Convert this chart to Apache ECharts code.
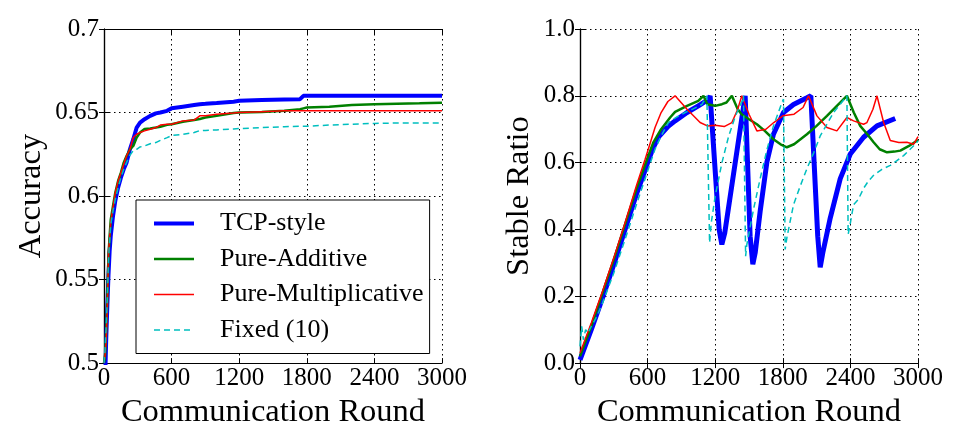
<!DOCTYPE html>
<html><head><meta charset="utf-8">
<script src="https://cdn.jsdelivr.net/npm/echarts@6/dist/echarts.min.js"></script>
<style>html,body{margin:0;padding:0;background:#fff}#c{width:958px;height:434px}</style>
</head><body><div id="c"></div>
<script>
const seriesNames = ['TCP-style', 'Pure-Additive', 'Pure-Multiplicative', 'Fixed (10)'];
const roundTicks = [0, 600, 1200, 1800, 2400, 3000];
const accTicks = [0.5, 0.55, 0.6, 0.65, 0.7];
const stableTicks = [0.0, 0.2, 0.4, 0.6, 0.8, 1.0];

// Left panel: Accuracy
const accRounds = [0,10,20,30,40,50,60,80,100,125,150,175,200,230,260,290,320,360,410,460,500,560,600,700,800,850,900,1000,1150,1200,1400,1600,1740,1770,1800,2000,2200,2400,2600,2800,3000];
const accTcp = [0.497,0.49,0.515,0.535,0.553,0.567,0.576,0.588,0.597,0.605,0.611,0.616,0.620,0.628,0.634,0.641,0.644,0.646,0.648,0.6495,0.650,0.651,0.6525,0.6535,0.6545,0.655,0.6552,0.6557,0.6565,0.657,0.6575,0.6578,0.658,0.660,0.660,0.660,0.660,0.660,0.660,0.660,0.660];
const accAdditive = [0.50,0.505,0.52,0.54,0.565,0.576,0.586,0.594,0.602,0.609,0.614,0.620,0.624,0.628,0.630,0.635,0.638,0.6402,0.6405,0.641,0.6415,0.6426,0.643,0.6445,0.6455,0.6461,0.647,0.648,0.6497,0.650,0.6503,0.651,0.652,0.6525,0.653,0.6535,0.6545,0.655,0.6553,0.6555,0.6558];
const accMultiplicative = [0.50,0.505,0.515,0.535,0.566,0.575,0.585,0.593,0.602,0.609,0.614,0.619,0.624,0.628,0.635,0.637,0.638,0.639,0.640,0.641,0.6425,0.643,0.643,0.645,0.6455,0.648,0.648,0.649,0.6497,0.650,0.6505,0.651,0.651,0.651,0.651,0.651,0.651,0.651,0.651,0.651,0.651];
const accFixed = [0.50,0.508,0.523,0.540,0.562,0.573,0.583,0.591,0.598,0.605,0.611,0.616,0.620,0.6244,0.6273,0.628,0.6294,0.630,0.6313,0.632,0.6333,0.635,0.6362,0.637,0.638,0.6392,0.6393,0.6396,0.6402,0.6404,0.641,0.6415,0.6418,0.6418,0.6418,0.6425,0.643,0.6435,0.6437,0.6438,0.6438];

// Right panel: Stable Ratio
const tcpStableRounds = [0,100,200,300,400,500,560,600,650,700,780,844,950,1050,1140,1155,1235,1259,1285,1466,1510,1534,1555,1599,1659,1717,1806,1895,2014,2049,2110,2132,2155,2221,2310,2399,2517,2636,2798];
const tcpStable = [0.01,0.10,0.195,0.295,0.40,0.505,0.56,0.60,0.645,0.678,0.708,0.725,0.75,0.77,0.789,0.80,0.40,0.355,0.39,0.80,0.38,0.296,0.33,0.454,0.602,0.685,0.75,0.774,0.794,0.80,0.38,0.287,0.33,0.434,0.552,0.626,0.676,0.71,0.732];
const addStableRounds = [0,100,200,300,400,500,590,650,720,800,844,950,1050,1096,1130,1199,1260,1300,1348,1400,1436,1500,1570,1640,1717,1780,1836,1900,2014,2100,2192,2280,2369,2430,2487,2550,2606,2660,2725,2790,2843,2920,3000];
const addStable = [0.02,0.11,0.21,0.31,0.415,0.52,0.605,0.66,0.70,0.735,0.752,0.77,0.785,0.80,0.775,0.77,0.775,0.78,0.80,0.76,0.744,0.73,0.715,0.695,0.67,0.655,0.646,0.655,0.685,0.71,0.74,0.77,0.80,0.75,0.71,0.685,0.661,0.64,0.631,0.633,0.636,0.65,0.668];
const mulStableRounds = [0,100,200,300,400,500,578,620,666,720,780,844,950,1066,1130,1200,1280,1348,1400,1436,1500,1570,1650,1720,1800,1900,1980,2028,2103,2192,2280,2369,2428,2517,2547,2600,2636,2695,2754,2830,2902,2960,3000];
const mulStable = [0.03,0.12,0.215,0.315,0.42,0.53,0.61,0.655,0.705,0.75,0.783,0.80,0.76,0.72,0.71,0.712,0.708,0.72,0.76,0.80,0.745,0.695,0.70,0.72,0.74,0.745,0.765,0.80,0.74,0.705,0.695,0.735,0.725,0.715,0.72,0.76,0.80,0.72,0.666,0.66,0.661,0.655,0.678];
const fixStableRounds = [0,15,30,50,70,100,150,200,300,400,516,578,620,666,720,785,850,933,1000,1081,1126,1150,1165,1200,1260,1320,1380,1440,1451,1470,1481,1540,1599,1660,1717,1792,1806,1821,1836,1895,1955,2014,2075,2132,2200,2251,2310,2369,2380,2400,2428,2470,2517,2560,2606,2680,2754,2810,2872,2930,2991,3000];
const fixStable = [0.05,0.11,0.07,0.10,0.09,0.11,0.14,0.18,0.27,0.37,0.49,0.552,0.595,0.64,0.68,0.72,0.735,0.75,0.76,0.774,0.80,0.36,0.42,0.50,0.60,0.68,0.74,0.785,0.80,0.32,0.355,0.46,0.552,0.64,0.71,0.779,0.79,0.34,0.375,0.474,0.53,0.582,0.63,0.68,0.72,0.75,0.775,0.80,0.385,0.42,0.474,0.49,0.523,0.545,0.562,0.58,0.592,0.605,0.621,0.64,0.661,0.665];

const FONT = "'Liberation Serif','Times New Roman',serif";
const colors = ['#0000ff', '#008000', '#ff0000', '#00bfbf'];
const widths = [4, 2.5, 1.5, 1.5];
const widthsRight = [5, 2.5, 1.5, 1.5];
const types = ['solid', 'solid', 'solid', [6, 4]];

function zip(xs, ys) { return xs.map((x, i) => [x, ys[i]]); }

const gridTop = 29, gridH = 337;
const grids = [
  { left: 104, top: gridTop, width: 338, height: gridH },
  { left: 580, top: gridTop, width: 338, height: gridH }
];

function xAxes(gi) {
  const base = {
    gridIndex: gi, type: 'value', min: 0, max: 3000, interval: 600,
    axisLine: { show: true, lineStyle: { color: '#000', width: 1.2 } },
    axisTick: { show: true, inside: true, length: 5, lineStyle: { color: '#000' } }
  };
  return [
    Object.assign({}, base, {
      position: 'bottom',
      name: 'Communication Round', nameLocation: 'middle', nameGap: 23,
      nameTextStyle: { fontFamily: FONT, fontSize: 32.5, color: '#000' },
      axisLabel: { show: true, fontFamily: FONT, fontSize: 25, color: '#000', margin: 3,
        formatter: v => roundTicks.includes(v) ? String(v) : '' },
      splitLine: { show: true, lineStyle: { color: '#000', type: [1.5, 3.5], width: 1 } }
    }),
    Object.assign({}, base, {
      position: 'top', axisLabel: { show: false }, splitLine: { show: false }
    })
  ];
}

function yAxes(gi, min, max, interval, name, fmt, gap) {
  const base = {
    gridIndex: gi, type: 'value', min: min, max: max, interval: interval,
    axisLine: { show: true, lineStyle: { color: '#000', width: 1.2 } },
    axisTick: { show: true, inside: true, length: 5, lineStyle: { color: '#000' } }
  };
  return [
    Object.assign({}, base, {
      position: 'left',
      name: name, nameLocation: 'middle', nameGap: gap,
      nameTextStyle: { fontFamily: FONT, fontSize: 32.5, color: '#000' },
      axisLabel: { show: true, fontFamily: FONT, fontSize: 25, color: '#000', margin: 5, formatter: fmt },
      splitLine: { show: true, lineStyle: { color: '#000', type: [1.5, 3.5], width: 1 } }
    }),
    Object.assign({}, base, {
      position: 'right', axisLabel: { show: false }, splitLine: { show: false }
    })
  ];
}

const accSets = [accTcp, accAdditive, accMultiplicative, accFixed];
const stableSets = [
  [tcpStableRounds, tcpStable],
  [addStableRounds, addStable],
  [mulStableRounds, mulStable],
  [fixStableRounds, fixStable]
];

const series = [];
seriesNames.forEach((n, i) => {
  series.push({
    name: n, type: 'line', xAxisIndex: 0, yAxisIndex: 0,
    data: zip(accRounds, accSets[i]), symbol: 'none', showSymbol: false,
    clip: true, z: 2 + i, animation: false,
    lineStyle: { color: colors[i], width: widths[i], type: types[i] },
    itemStyle: { color: colors[i] }
  });
});
seriesNames.forEach((n, i) => {
  series.push({
    name: n, type: 'line', xAxisIndex: 2, yAxisIndex: 2,
    data: zip(stableSets[i][0], stableSets[i][1]), symbol: 'none', showSymbol: false,
    clip: true, z: 2 + i, animation: false,
    lineStyle: { color: colors[i], width: widthsRight[i], type: types[i] },
    itemStyle: { color: colors[i] }
  });
});

const chart = echarts.init(document.getElementById('c'), null, { renderer: 'canvas' });
chart.setOption({
  animation: false,
  backgroundColor: '#fff',
  grid: grids,
  xAxis: [...xAxes(0), ...xAxes(1)],
  yAxis: [
    ...yAxes(0, 0.5, 0.7, 0.05, 'Accuracy', v => String(+v.toFixed(2)), 56),
    ...yAxes(1, 0, 1, 0.2, 'Stable Ratio', v => v.toFixed(1), 44)
  ],
  legend: {
    orient: 'vertical', left: 136, top: 200,
    padding: [8.5, 6, 8.5, 16],
    itemWidth: 40, itemHeight: 14, itemGap: 5.5,
    borderColor: '#000', borderWidth: 1, borderRadius: 0, backgroundColor: '#fff',
    textStyle: { fontFamily: FONT, fontSize: 26, color: '#000', lineHeight: 30, padding: [0, 0, 0, 21] },
    data: seriesNames.map((n, i) => ({
      name: n,
      itemStyle: { opacity: 0 },
      lineStyle: { color: colors[i], width: widths[i], type: types[i] }
    }))
  },
  series: series
});
</script>
</body></html>
